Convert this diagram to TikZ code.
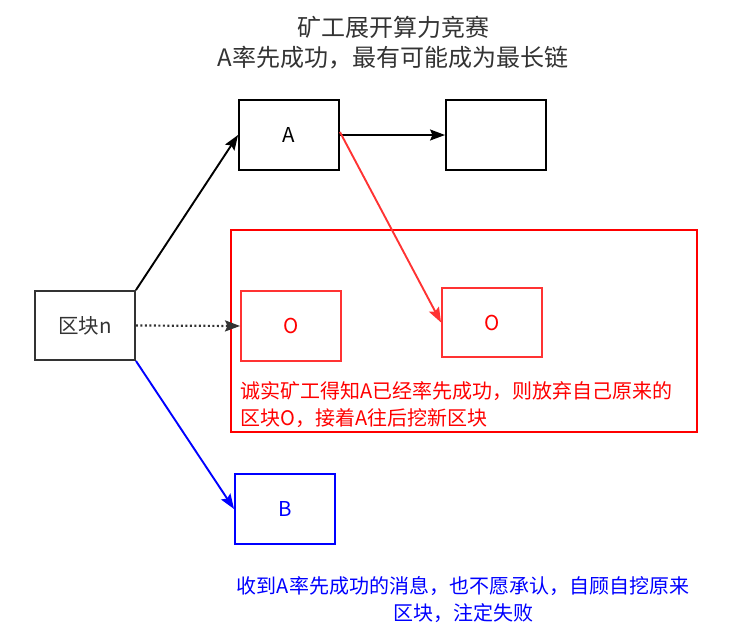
\documentclass[tikz,border=0pt]{standalone}
\usepackage{fontspec}
\setmainfont{Noto Sans CJK SC}
\usetikzlibrary{arrows.meta}
\definecolor{titlegray}{HTML}{333333}
\definecolor{lightred}{HTML}{FF3333}
\definecolor{pureblue}{HTML}{0000FF}
\begin{document}
\begin{tikzpicture}[x=1pt,y=-1pt,
  blk/.style={draw,line width=1.9pt,minimum width=100pt,minimum height=70pt,inner sep=0pt,
    font=\fontsize{20.5pt}{24pt}\selectfont},
  tip/.style={-{Stealth[length=15pt,width=11pt,inset=2.5pt]}},
  conn/.style={line width=1.9pt,tip},
  lbl/.style={inner sep=0pt,font=\fontsize{20pt}{27pt}\selectfont}
]
\useasboundingbox (0,0) rectangle (745,627);
% title
\node[lbl,text=titlegray,align=center,font=\fontsize{24pt}{30pt}\selectfont] (title) at (393,43)
  {矿工展开算力竞赛\\A率先成功，最有可能成为最长链};
% big red frame
\node[draw=red,line width=1.9pt,minimum width=466pt,minimum height=202pt,inner sep=0pt] (frame) at (464,331) {};
% blocks
\node[blk] (A) at (289,135) {A};
\node[blk] (R) at (496,135) {};
\node[blk,draw=titlegray,text=titlegray,minimum height=69pt] (N) at (85,325.5) {区块n};
\node[blk,draw=lightred,text=red] (O1) at (291,326) {O};
\node[blk,draw=lightred,text=red,minimum height=69pt] (O2) at (492,322.5) {O};
\node[blk,draw=pureblue,text=pureblue] (B) at (285,509) {B};
% texts
\node[lbl,text=red,align=left,anchor=north west] (rtext) at (240,381)
  {诚实矿工得知A已经率先成功，则放弃自己原来的\\区块O，接着A往后挖新区块};
\node[lbl,text=pureblue,align=center] (btext) at (463,600)
  {收到A率先成功的消息，也不愿承认，自顾自挖原来\\区块，注定失败};
% connectors
\draw[conn] (N.north east) -- (A.west);
\draw[conn] (A.east) -- (R.west);
\draw[conn,draw=lightred,fill=lightred] ([yshift=3pt]A.east) -- (O2.west);
\draw[line width=2.2pt,dash pattern=on 2pt off 2.5pt,tip,titlegray] (N.east) -- (O1.west);
\draw[conn,pureblue] (N.south east) -- (B.west);
\end{tikzpicture}
\end{document}
